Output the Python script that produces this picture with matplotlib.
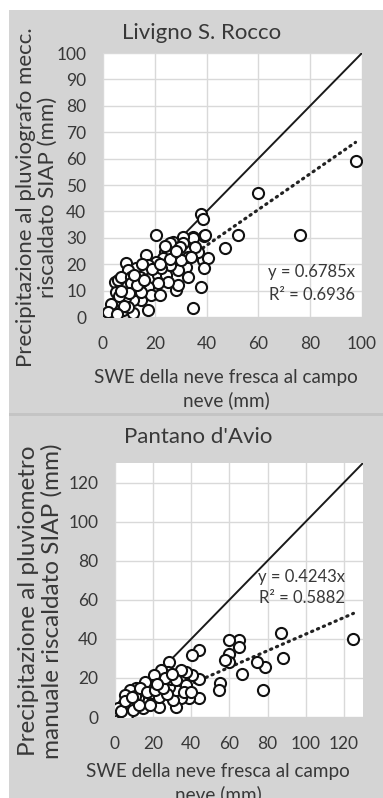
import matplotlib
matplotlib.use("Agg")
import matplotlib.pyplot as plt
import numpy as np
from matplotlib.patches import Rectangle

# ---- data ----
liv_title = "Livigno S. Rocco"
liv_x = [97.5, 60, 76, 52, 47, 38, 38.7, 39, 34.9, 38.7, 40.7, 39, 20.3, 34.7, 30.9, 27, 25.7,
         38, 34.7, 36.7, 35.4, 28.3, 29, 32.2, 29, 32.8, 30.2, 27, 23.8, 23.2, 20.6, 16.7, 17.4,
         12.9, 9, 9.7, 16.1, 18.7, 21.2, 24.4, 25.1, 21.2, 17.4, 17.4, 14.8, 11.6, 11.6, 8.4, 8.4,
         4.5, 5.8, 5.1, 3.9, 4.5, 7.7, 12.2, 14.8, 14.2, 7.1, 10.9, 5.8, 9.7, 3.2, 30.9, 34.1,
         29.6, 32.8, 25.7, 22.5, 10.9, 18.7, 21.9, 14.8, 39.3,
         6, 8, 10, 13, 16, 19, 22, 26, 28, 24, 12, 15, 7, 2, 5.5]
liv_y = [59, 47, 31, 31, 26, 39, 37, 30.8, 30.4, 21.6, 22.2, 18.4, 31, 29.8, 30.4, 28.5, 28.2,
         11.2, 3.3, 24.7, 26.6, 10.2, 12, 19, 17.8, 22.8, 21.6, 24.1, 24.7, 22.2, 21, 23.5, 19.7,
         18.4, 20.3, 17.8, 17.2, 15.3, 15.9, 15.9, 13.4, 12.8, 11.5, 2.7, 6.4, 6.4, 1.4, 7.1, 11.5,
         13.4, 14, 9.6, 4.5, 0.5, 2.7, 10.2, 13.4, 15.3, 15.3, 15.3, 6.4, 3.9, 5, 27.9, 22.8,
         26.6, 15.3, 19.7, 18.4, 12.8, 8.3, 8.3, 9.6, 31,
         8, 4, 9, 12, 14, 18, 20, 22, 25, 27, 16, 20, 10, 2, 1]
liv_slope = 0.6785
liv_eq = "y = 0.6785x"
liv_r2 = "R² = 0.6936"
liv_ylabel = "Precipitazione al pluviografo mecc.\nriscaldato SIAP (mm)"
liv_xticks = [0, 20, 40, 60, 80, 100]
liv_yticks = [0, 10, 20, 30, 40, 50, 60, 70, 80, 90, 100]

pan_title = "Pantano d'Avio"
pan_x = [125, 87, 88, 78.6, 74.3, 66.5, 77.7, 64.8, 59.6, 64.8, 59.6, 59.6, 57.9, 55.3, 54.4,
         44, 40.6, 44, 44, 40.6, 38.9, 34.5, 32, 35.4, 37.1, 34.5, 28.5, 27.6, 24.2, 23.3, 30.2,
         37.1, 34.5, 32, 28.5, 29.4, 24.2, 20.7, 19.8, 19, 15.5, 14.7, 14.7, 11.2, 12.1, 7.8, 7.8,
         5.2, 4.3, 1.7, 3.5, 6.1, 9.5, 14.7, 18.1, 32, 23.3, 27.5, 10.5, 12.5,
         3, 5, 9, 13, 17, 21, 25, 26, 22, 30, 36, 40]
pan_y = [40, 43, 30, 25.7, 28.2, 22, 13.8, 39.3, 39.3, 35.9, 32.5, 28.2, 29, 17.2, 13.8,
         34.2, 31.6, 19.7, 9.5, 21.4, 9.5, 9.5, 5.3, 20.6, 23.1, 15.5, 28.2, 23.1, 24, 5.3, 8.7,
         16.3, 24, 13.8, 15.5, 19.7, 18, 21.4, 16.3, 12.1, 18, 12.9, 7.8, 14.6, 9.5, 13.8, 7.8,
         11.2, 6.1, 4.4, 1.9, 1, 3.6, 4.4, 6.1, 18.9, 10.4, 12, 11, 6,
         3, 8, 10, 15, 13, 14, 15, 20, 17, 22, 13, 13]
pan_slope = 0.4243
pan_eq = "y = 0.4243x"
pan_r2 = "R² = 0.5882"
pan_ylabel = "Precipitazione al pluviometro\nmanuale riscaldato SIAP (mm)"
pan_xticks = [0, 20, 40, 60, 80, 100, 120]
pan_yticks = [0, 20, 40, 60, 80, 100, 120]

xlabel = "SWE della neve fresca al campo\nneve (mm)"

# ---- style ----
W, H = 383, 798
DPI = 100
FONT = ["Lato", "DejaVu Sans"]
plt.rcParams['font.family'] = FONT
BG = "#D4D4D4"
TXT = "#383838"

fig = plt.figure(figsize=(W / DPI, H / DPI), dpi=DPI)
fig.patch.set_facecolor("white")


def fx(px):
    return px / W


def fy(py):
    return 1 - py / H


# gray panels
for (x0, y0, x1, y1, c) in [(9, 10, W, 413, BG), (9, 416, W, H, BG), (9, 413, W, 416, "#C4C4C4")]:
    fig.patches.append(Rectangle((fx(x0), fy(y1)), fx(x1) - fx(x0), fy(y0) - fy(y1),
                                 transform=fig.transFigure, facecolor=c, edgecolor="none",
                                 zorder=-10))


def make_panel(rect_px, xs, ys, slope, xlim, ylim, xticks, yticks, eq, r2, eq_pos, r2_pos):
    l, t, r, b = rect_px
    ax = fig.add_axes([fx(l), fy(b), fx(r) - fx(l), fy(t) - fy(b)])
    ax.set_facecolor("white")
    ax.set_xlim(*xlim)
    ax.set_ylim(*ylim)
    ax.set_xticks(xticks)
    ax.set_yticks(yticks)
    ax.grid(True, color="#D9D9D9", linewidth=1.0)
    ax.set_axisbelow(True)
    for s in ax.spines.values():
        s.set_visible(False)
    ax.tick_params(length=0, labelsize=12.5, labelcolor=TXT, pad=12)
    ax.tick_params(axis="x", pad=14)
    lim = min(xlim[1], ylim[1])
    ax.plot([0, lim], [0, lim], color="#1a1a1a", linewidth=1.4, zorder=2)
    xx = np.array([min(xs), max(xs)])
    ax.plot(xx, slope * xx, color="#222222", linewidth=2.3, linestyle=(0, (0.4, 1.6)),
            dash_capstyle="round", zorder=2)
    ax.scatter(xs, ys, s=64, facecolor="white", edgecolor="#111111", linewidth=1.5, zorder=3)
    ax.text(*eq_pos, eq, ha="right", va="center", fontsize=12, color=TXT, zorder=4)
    ax.text(*r2_pos, r2, ha="right", va="center", fontsize=12, color=TXT, zorder=4)
    return ax


ax1 = make_panel((103, 53, 362, 317), liv_x, liv_y, liv_slope, (0, 100), (0, 100),
                 liv_xticks, liv_yticks, liv_eq, liv_r2, (97.3, 17.0), (97.3, 8.3))
ax2 = make_panel((115, 463, 363, 717), pan_x, pan_y, pan_slope, (0, 130), (0, 130),
                 pan_xticks, pan_yticks, pan_eq, pan_r2, (120.5, 71.4), (120.5, 60.7))

# titles
fig.text(fx(202), fy(33), liv_title, ha="center", va="center", fontsize=16, color=TXT)
fig.text(fx(198), fy(437), pan_title, ha="center", va="center", fontsize=16, color=TXT)

# x labels
fig.text(fx(226), fy(389), xlabel, ha="center", va="center", fontsize=13.6, color=TXT,
         linespacing=1.3)
fig.text(fx(218), fy(783), xlabel, ha="center", va="center", fontsize=13.6, color=TXT,
         linespacing=1.3)

# y labels
fig.text(fx(37), fy(197), liv_ylabel, ha="center", va="center", rotation=90, fontsize=16,
         color=TXT, linespacing=1.15)
fig.text(fx(40), fy(601), pan_ylabel, ha="center", va="center", rotation=90, fontsize=17.5,
         color=TXT, linespacing=1.1)

fig.savefig("out.png", dpi=DPI, facecolor=fig.get_facecolor())
